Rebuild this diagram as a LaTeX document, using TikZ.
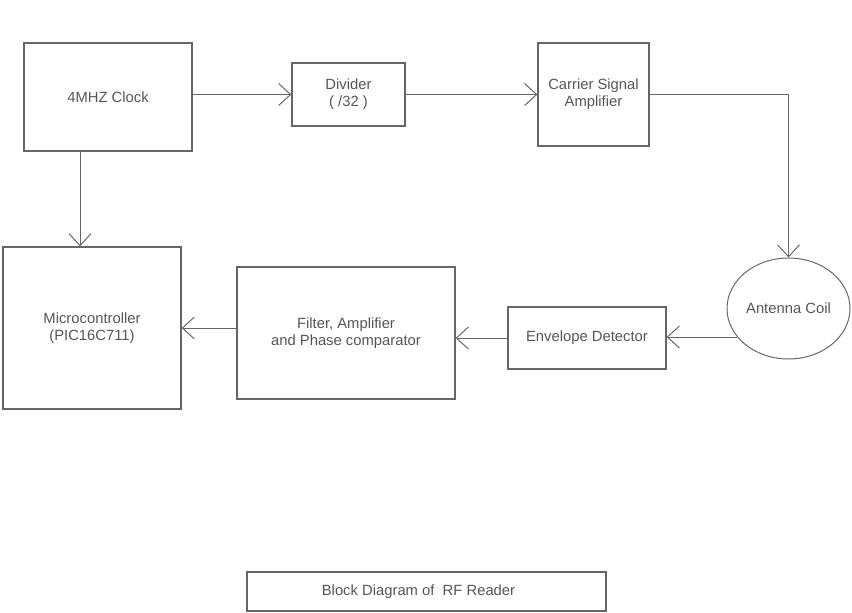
\documentclass[tikz,border=0pt]{standalone}
\usepackage{fontspec}
\setmainfont{Liberation Sans}
\usepackage{xcolor}
\definecolor{Col1}{RGB}{102,102,102}
\definecolor{Col2}{RGB}{85,85,85}
\usepackage{tikz}
\usetikzlibrary{shapes}
\usetikzlibrary{arrows.meta}
\tikzstyle{Block}=[rectangle,draw=Col1,line width=1.3pt,inner sep=0pt,
align=center,text=Col2,font=\fontsize{14.8}{17}\selectfont]
\tikzstyle{Coil}=[ellipse,draw=Col1,line width=1pt,inner sep=0pt,
align=center,text=Col2,font=\fontsize{14.8}{17}\selectfont]
\tikzstyle{Edge}=[draw=Col1,line width=1pt,
-{Straight Barb[length=12pt,width=22pt,line width=1pt]}]

\begin{document}
\begin{tikzpicture}[x=1pt,y=-1pt]
        \useasboundingbox(0,0)rectangle(852,613);
        \node[Block,minimum width=168,minimum height=108](clock)at(108,97)
                {4MHZ Clock};
        \node[Block,minimum width=113,minimum height=63](div)at(348.5,94.5)
                {Divider\\( /32 )};
        \node[Block,minimum width=111,minimum height=103](carr)at(593.5,94.5)
                {Carrier Signal\\Amplifier};
        \node[Coil,minimum width=123,minimum height=101](coil)at(788.5,308.5)
                {Antenna Coil};
        \node[Block,minimum width=158,minimum height=62](env)at(587,338)
                {Envelope Detector};
        \node[Block,minimum width=218,minimum height=132](filt)at(346,333)
                {Filter, Amplifier\\and Phase comparator};
        \node[Block,minimum width=178,minimum height=162](mcu)at(92,328)
                {Microcontroller\\(PIC16C711)};
        \node[Block,minimum width=359,minimum height=39](cap)at(426.5,591.5)
                {Block Diagram of\ \ RF Reader\hspace*{16pt}};
        \draw[Edge](clock.east|-div.west)--(div.west);
        \draw[Edge](div.east)--(carr.west);
        \draw[Edge](carr.east)-|(coil.north);
        \draw[Edge](coil.209)--(coil.209-|env.east);
        \draw[Edge](env.west)--(env.west-|filt.east);
        \draw[Edge](filt.west|-mcu.east)--(mcu.east);
        \draw[Edge]([xshift=-28pt]clock.south)--([xshift=-28pt]clock.south|-mcu.north);
    \end{tikzpicture}
\end{document}
